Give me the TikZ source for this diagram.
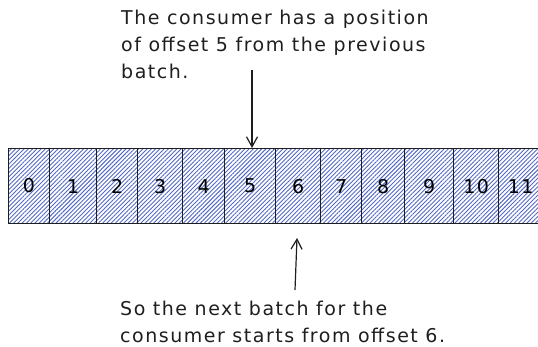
\documentclass[tikz,border=0pt]{standalone}
\usepackage{fontspec}
\setmainfont[LetterSpace=8]{DejaVu Sans}
\usepackage{xcolor}
\definecolor{HatchBlue}{HTML}{5369C4}
\definecolor{InkBlack}{HTML}{1E1E1E}
\usetikzlibrary{arrows.meta, positioning, patterns.meta}

\begin{document}
\begin{tikzpicture}[
  x=1pt, y=-1pt,
  font=\fontsize{19}{27}\selectfont,
  cell/.style={
    rectangle, draw=InkBlack, line width=1.4pt,
    minimum height=75pt, inner sep=0pt, anchor=north west,
    pattern={Lines[angle=45, distance=3pt, line width=0.9pt]},
    pattern color=HatchBlue
  },
  note/.style={align=left, anchor=north west, inner sep=0pt, text=InkBlack},
  arr/.style={-{Straight Barb[length=10pt, width=11pt]}, line width=1.2pt, color=InkBlack},
]
\useasboundingbox (0,0) rectangle (538,347);

\foreach \a/\b/\n in {8/49/0, 49/96/1, 96/137/2, 137/182/3, 182/224/4,
    224/275/5, 275/320/6, 320/361/7, 361/404/8, 404/453/9, 453/498/10,
    498/542/11}
  \node[cell, minimum width={(\b-\a)*1pt}] (c\n) at (\a,148) {\n};

\node[note] (top) at (121,10)
  {The consumer has a position\\of offset 5 from the previous\\batch.};
\node[note] (bottom) at (120,301)
  {So the next batch for the\\consumer starts from offset 6.};

\coordinate (topstart) at (252,70);
\coordinate (botstart) at (295,290);
\coordinate (bottip) at (297,238);

\draw[arr] (topstart) -- (topstart |- c5.north);
\draw[arr] (botstart) -- (bottip);

\end{tikzpicture}
\end{document}
